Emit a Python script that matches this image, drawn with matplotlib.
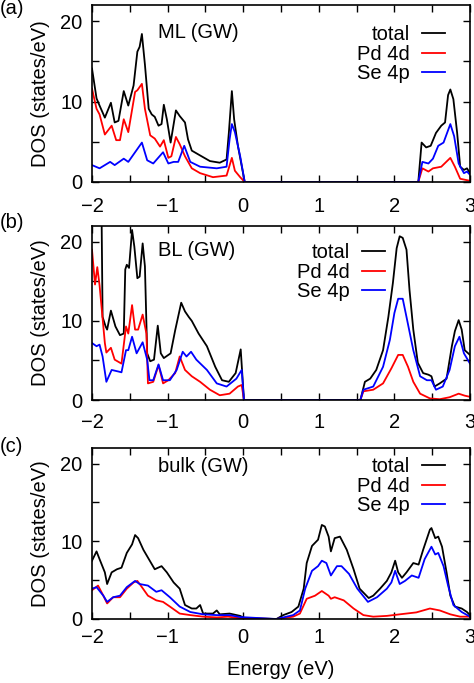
import numpy as np
from matplotlib import pyplot as plt

plt.rcParams['font.family'] = ['Liberation Sans', 'DejaVu Sans']
plt.rcParams['font.size'] = 14.5

# ---- ML (GW) ----
ml_tot_e = [-2.0, -1.94, -1.90, -1.83, -1.75, -1.70, -1.65, -1.58, -1.52, -1.45, -1.40, -1.37, -1.34,
            -1.30, -1.25, -1.21, -1.17, -1.12, -1.08, -1.05, -1.01, -0.96, -0.89, -0.84, -0.77, -0.73,
            -0.68, -0.57, -0.44, -0.31, -0.22, -0.19, -0.15, -0.12, -0.07, 0.02,
            2.316, 2.36, 2.42, 2.48, 2.55, 2.62, 2.67, 2.71, 2.74, 2.78, 2.83, 2.87, 2.92, 2.96, 3.0]
ml_tot = [14.1, 10.4, 9.5, 8.0, 9.85, 7.4, 7.6, 11.3, 9.5, 12.0, 16.2, 16.8, 18.4,
          14.6, 9.1, 8.4, 8.1, 7.0, 7.2, 9.6, 7.8, 4.9, 8.9, 8.2, 7.4, 5.3,
          3.9, 3.3, 2.6, 2.4, 2.8, 6.1, 11.3, 7.8, 4.5, 0.0,
          0.0, 4.9, 4.3, 4.5, 6.1, 7.0, 7.4, 10.8, 11.5, 10.3, 6.1, 1.9, 1.5, 1.7, 1.1]
ml_pd_e = [-2.0, -1.94, -1.90, -1.83, -1.74, -1.68, -1.63, -1.58, -1.52, -1.43, -1.40, -1.34, -1.30,
           -1.23, -1.17, -1.10, -1.05, -0.99, -0.95, -0.89, -0.84, -0.77, -0.68, -0.57, -0.40,
           -0.22, -0.15, -0.11, -0.04, 0.02,
           2.316, 2.37, 2.45, 2.51, 2.62, 2.74, 2.80, 2.87, 3.0]
ml_pd = [11.6, 9.1, 8.4, 5.9, 7.0, 5.2, 5.2, 7.8, 6.2, 11.2, 11.4, 12.2, 9.1,
         5.8, 5.4, 4.4, 5.2, 3.0, 3.2, 5.6, 4.7, 3.2, 1.7, 1.1, 0.6,
         0.8, 3.0, 1.4, 0.6, 0.0,
         0.0, 1.7, 1.3, 1.7, 1.9, 3.0, 1.9, 0.4, 0.15]
ml_se_e = [-2.0, -1.90, -1.76, -1.70, -1.58, -1.52, -1.34, -1.27, -1.19, -1.06, -0.99, -0.92, -0.86,
           -0.78, -0.70, -0.57, -0.35, -0.22, -0.18, -0.15, -0.11, -0.04, 0.02,
           2.316, 2.37, 2.45, 2.51, 2.58, 2.65, 2.74, 2.79, 2.85, 2.92, 2.96, 3.0]
ml_se = [2.1, 1.7, 2.5, 2.1, 2.9, 2.5, 4.9, 2.7, 2.3, 3.7, 2.3, 2.5, 2.5,
         4.5, 2.5, 1.9, 1.7, 1.9, 5.3, 7.2, 6.2, 3.2, 0.0,
         0.0, 2.5, 2.3, 2.9, 4.5, 4.9, 7.2, 5.7, 2.3, 1.1, 1.3, 0.9]

# ---- BL (GW) ----
bl_tot_e = [-2.0, -1.875, -1.86, -1.82, -1.80, -1.75, -1.69, -1.63, -1.58, -1.56, -1.54, -1.51, -1.47,
            -1.44, -1.40, -1.37, -1.33, -1.30, -1.27, -1.23, -1.18, -1.13, -1.09, -1.05, -0.96,
            -0.90, -0.82, -0.77, -0.72, -0.68, -0.59, -0.48, -0.37, -0.28, -0.19, -0.10, -0.033, 0.01,
            1.55, 1.61, 1.68, 1.76, 1.85, 1.92, 1.98, 2.03, 2.07, 2.11, 2.16, 2.20, 2.25, 2.31,
            2.38, 2.45, 2.49, 2.53, 2.60, 2.69, 2.76, 2.80, 2.85, 2.89, 2.93, 3.0]
bl_tot = [25.0, 25.0, 10.5, 9.3, 8.9, 11.3, 9.3, 8.2, 8.4, 16.5, 17.1, 16.7, 21.5,
          19.4, 15.4, 15.6, 19.8, 16.9, 5.9, 4.9, 5.1, 9.4, 5.9, 5.3, 5.9,
          8.8, 12.3, 11.2, 10.5, 10.0, 8.4, 6.8, 4.2, 2.5, 2.3, 3.4, 6.4, 0.0,
          0.0, 2.3, 2.7, 3.8, 6.3, 10.5, 14.8, 19.2, 20.7, 20.5, 19.0, 13.9, 8.9, 4.7,
          3.4, 3.2, 3.0, 1.7, 2.1, 2.7, 6.8, 8.7, 10.1, 8.9, 6.3, 5.7]
bl_pd_e = [-2.0, -1.96, -1.93, -1.90, -1.83, -1.81, -1.75, -1.70, -1.61, -1.55, -1.52, -1.47, -1.43,
           -1.39, -1.33, -1.28, -1.26, -1.19, -1.12, -1.08, -1.06, -0.99, -0.90, -0.84, -0.77,
           -0.68, -0.57, -0.44, -0.31, -0.18, -0.07, -0.02, 0.01,
           1.55, 1.59, 1.72, 1.85, 1.96, 2.05, 2.11, 2.18, 2.25, 2.34, 2.47, 2.60, 2.73, 2.85, 2.93, 3.0]
bl_pd = [19.0, 14.6, 16.8, 14.5, 7.2, 6.0, 6.6, 5.1, 4.6, 9.3, 8.4, 12.0, 8.9,
         8.9, 10.8, 8.4, 2.1, 2.3, 4.4, 2.9, 2.1, 2.5, 3.4, 5.5, 3.8,
         3.0, 2.3, 1.3, 0.6, 0.8, 1.7, 1.9, 0.0,
         0.0, 1.1, 1.3, 2.1, 4.0, 5.7, 5.7, 4.2, 2.3, 0.8, 0.2, 0.1, 0.35, 0.8, 0.55, 0.4]
bl_se_e = [-2.0, -1.94, -1.90, -1.86, -1.81, -1.74, -1.65, -1.61, -1.55, -1.52, -1.47, -1.41, -1.33,
           -1.27, -1.24, -1.19, -1.12, -1.06, -0.97, -0.88, -0.80, -0.75, -0.69, -0.62, -0.48,
           -0.35, -0.22, -0.09, -0.02, 0.01,
           1.55, 1.59, 1.72, 1.85, 1.94, 2.00, 2.05, 2.11, 2.16, 2.25, 2.34, 2.43, 2.49, 2.55,
           2.64, 2.73, 2.80, 2.86, 2.92, 3.0]
bl_se = [7.2, 6.8, 7.0, 5.5, 2.3, 3.8, 3.6, 3.5, 6.3, 6.3, 8.0, 5.9, 7.3,
         5.1, 2.5, 2.5, 4.5, 2.5, 2.5, 3.8, 6.1, 5.5, 6.1, 5.1, 3.8,
         2.1, 1.7, 2.7, 3.8, 0.0,
         0.0, 1.3, 1.7, 4.2, 7.6, 11.0, 12.8, 12.8, 10.5, 6.3, 3.0, 2.5, 2.5, 1.3,
         1.7, 3.8, 6.8, 8.0, 5.9, 4.6]

# ---- bulk (GW) ----
bk_tot_e = [-2.0, -1.94, -1.90, -1.83, -1.80, -1.74, -1.67, -1.61, -1.54, -1.47, -1.43, -1.39, -1.32,
            -1.26, -1.17, -1.08, -1.01, -0.92, -0.84, -0.77, -0.68, -0.62, -0.57, -0.53, -0.40,
            -0.35, -0.31, -0.18, -0.04, 0.02, 0.44,
            0.53, 0.64, 0.73, 0.80, 0.84, 0.91, 0.99, 1.04, 1.08, 1.13, 1.16, 1.21, 1.28, 1.37,
            1.46, 1.54, 1.66, 1.72, 1.81, 1.90, 1.96, 2.01, 2.05, 2.10, 2.16, 2.25, 2.32, 2.38,
            2.47, 2.49, 2.54, 2.58, 2.63, 2.69, 2.74, 2.80, 2.89, 2.96, 3.0]
bk_tot = [7.5, 8.7, 7.7, 6.0, 4.5, 6.0, 6.4, 6.6, 8.5, 9.6, 10.8, 10.4, 8.9,
          7.9, 6.4, 6.8, 6.0, 4.7, 3.9, 1.8, 1.35, 1.35, 1.8, 0.7, 0.7,
          1.1, 0.6, 0.7, 0.4, 0.1, 0.0,
          0.5, 0.9, 1.6, 3.9, 7.2, 9.4, 10.2, 12.1, 11.9, 10.6, 8.7, 10.4, 10.6, 8.9,
          6.4, 3.9, 2.7, 3.0, 3.9, 4.9, 6.0, 7.5, 6.0, 5.3, 6.0, 7.2, 7.0, 8.9,
          11.5, 11.7, 10.4, 10.6, 9.3, 6.0, 3.0, 1.6, 1.35, 0.9, 0.5]
bk_pd_e = [-2.0, -1.92, -1.85, -1.80, -1.72, -1.63, -1.54, -1.45, -1.40, -1.34, -1.26, -1.15, -1.06,
           -0.97, -0.84, -0.70, -0.53, -0.35, -0.20, -0.04, 0.44,
           0.66, 0.75, 0.84, 0.95, 1.04, 1.13, 1.16, 1.21, 1.33, 1.46, 1.59, 1.72, 1.90, 2.07,
           2.29, 2.47, 2.60, 2.74, 2.87, 3.0]
bk_pd = [3.7, 4.3, 3.0, 2.0, 2.8, 2.8, 3.9, 4.7, 4.9, 4.1, 3.0, 2.4, 2.2,
         1.6, 0.7, 0.5, 0.3, 0.2, 0.3, 0.1, 0.0,
         0.3, 0.7, 2.6, 3.0, 3.6, 3.0, 2.6, 2.8, 2.4, 1.35, 0.5, 0.3, 0.4, 0.6,
         0.85, 1.35, 1.1, 0.6, 0.3, 0.3]
bk_se_e = [-2.0, -1.94, -1.85, -1.80, -1.72, -1.63, -1.54, -1.43, -1.37, -1.26, -1.15, -1.08, -0.97,
           -0.84, -0.70, -0.53, -0.35, -0.18, -0.04, 0.44,
           0.66, 0.75, 0.82, 0.91, 0.99, 1.04, 1.10, 1.16, 1.24, 1.30, 1.40, 1.51, 1.65, 1.77,
           1.90, 1.96, 2.01, 2.07, 2.14, 2.23, 2.32, 2.40, 2.49, 2.54, 2.58, 2.65, 2.71, 2.78,
           2.89, 3.0]
bk_se = [3.9, 4.1, 3.0, 2.2, 2.8, 3.0, 4.1, 4.9, 4.5, 4.3, 3.5, 3.7, 2.8,
         1.6, 0.9, 0.6, 0.5, 0.5, 0.25, 0.0,
         0.5, 1.1, 3.9, 6.2, 6.8, 7.5, 7.2, 5.6, 6.8, 6.8, 5.8, 3.9, 2.2, 2.8,
         3.9, 4.7, 6.2, 4.5, 4.9, 5.6, 5.3, 7.7, 9.3, 8.3, 8.5, 6.8, 4.3, 1.8,
         0.9, 0.3]

panels = [
    ('(a)', 'ML (GW)', (ml_tot_e, ml_tot), (ml_pd_e, ml_pd), (ml_se_e, ml_se)),
    ('(b)', 'BL (GW)', (bl_tot_e, bl_tot), (bl_pd_e, bl_pd), (bl_se_e, bl_se)),
    ('(c)', 'bulk (GW)', (bk_tot_e, bk_tot), (bk_pd_e, bk_pd), (bk_se_e, bk_se)),
]

W, H = 474., 683.
fig = plt.figure(figsize=(W/100, H/100), dpi=100)

# axes boxes in pixels: (top, bottom)
boxes = [(5, 182), (226, 400), (448, 619)]
left, right = 92, 470
# legend anchor (x, y) in axes coords, title pos, panel letter y(px), tick-label pad
leg_anchor = [(0.934, 0.885), (0.775, 0.90), (0.934, 0.945)]
title_pos = [(0.28, 0.845), (0.278, 0.86), (0.294, 0.889)]
letter_y = [8, 223, 447]
xpads = [11, 9.5, 6.5]

for i, (letter, title, tot, pd, se) in enumerate(panels):
    top, bot = boxes[i]
    ax = fig.add_axes([left/W, 1-bot/H, (right-left)/W, (bot-top)/H])
    ax.plot(tot[0], tot[1], color='black', lw=1.3, label='total')
    ax.plot(pd[0], pd[1], color='red', lw=1.3, label='Pd 4d')
    ax.plot(se[0], se[1], color='blue', lw=1.3, label='Se 4p')
    ax.set_xlim(-2, 3)
    ax.set_ylim(0, 22)
    ax.set_xticks(np.arange(-2, 3.01, 0.5))
    ax.set_xticklabels(['\u22122', '', '\u22121', '', '0', '', '1', '', '2', '', '3'])
    ax.set_yticks([0, 5, 10, 15, 20])
    ax.set_yticklabels(['0', '', '10', '', '20'])
    ax.tick_params(direction='in', top=True, right=True, length=5, width=1.0, labelsize=14.5)
    ax.tick_params(axis='x', pad=xpads[i])
    ax.tick_params(axis='y', pad=7)
    for s in ax.spines.values():
        s.set_linewidth(1.2)
    ax.set_ylabel('DOS (states/eV)', fontsize=14.5)
    ax.yaxis.set_label_coords(-0.11, 0.5)
    ax.text(title_pos[i][0], title_pos[i][1], title, transform=ax.transAxes,
            ha='center', va='center', fontsize=14.5)
    ax.legend(loc='upper right', bbox_to_anchor=leg_anchor[i], frameon=False,
              markerfirst=False, handlelength=1.15, handletextpad=0.6,
              labelspacing=0.02, borderpad=0, borderaxespad=0, fontsize=14.5)
    fig.text(0.0, 1-letter_y[i]/H, letter, ha='left', va='center', fontsize=14.5)
    if i == 2:
        ax.set_xlabel('Energy (eV)', fontsize=14.5, labelpad=9)

fig.savefig('out.png', dpi=100)
